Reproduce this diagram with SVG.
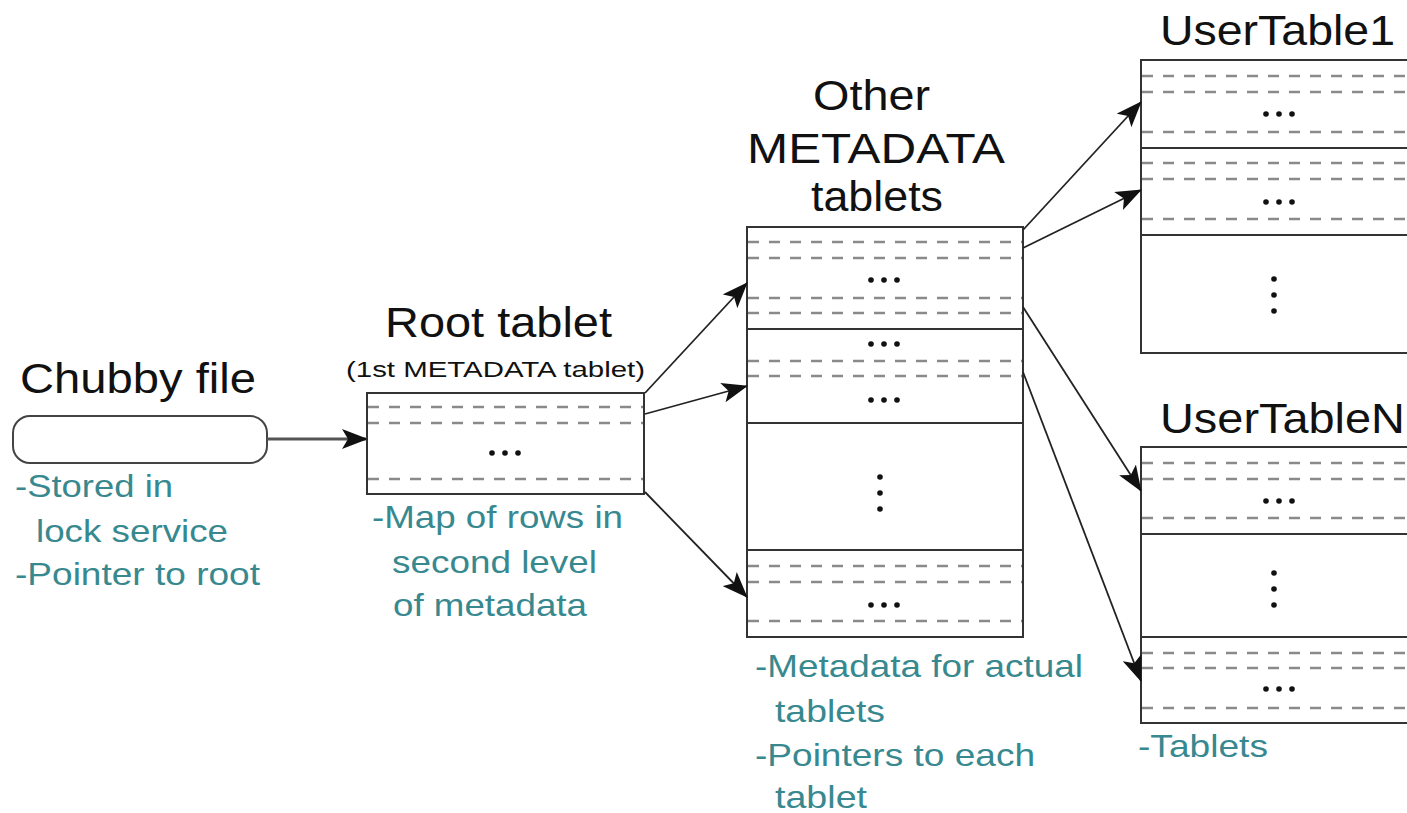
<svg xmlns="http://www.w3.org/2000/svg" width="1407" height="813" viewBox="0 0 1407 813">
<style>
.title{font-family:"Liberation Sans",Arial,sans-serif;font-size:42px;fill:#111}
.sub{font-family:"Liberation Sans",Arial,sans-serif;font-size:22px;fill:#111}
.note{font-family:"Liberation Sans",Arial,sans-serif;font-size:32px;fill:#37898f}
.box{fill:#fff;stroke:#333;stroke-width:2}
.solid{stroke:#333;stroke-width:2}
.dash{stroke:#8a8a8a;stroke-width:2.6;stroke-dasharray:11 10}
.dot{fill:#111}
.conn{stroke:#222;stroke-width:1.8;fill:none}
</style>
<defs>
<marker id="ah" markerUnits="userSpaceOnUse" viewBox="0 0 26 20" refX="25" refY="10" markerWidth="26" markerHeight="20" orient="auto">
<path d="M0,0 L26,10 L0,20 L6,10 Z" fill="#111"/>
</marker>
<g id="hdots"><circle cx="-13" cy="0" r="2.8" class="dot"/><circle cx="0" cy="0" r="2.8" class="dot"/><circle cx="13" cy="0" r="2.8" class="dot"/></g>
<g id="vdots"><circle cx="0" cy="-16" r="2.8" class="dot"/><circle cx="0" cy="0" r="2.8" class="dot"/><circle cx="0" cy="16" r="2.8" class="dot"/></g>
</defs>
<rect width="1407" height="813" fill="#fff"/>

<g id="chubby">
<text class="title" x="20" y="393" textLength="236" lengthAdjust="spacingAndGlyphs">Chubby file</text>
<rect x="13" y="416" width="254" height="47" rx="17" fill="#fff" stroke="#444" stroke-width="2"/>
<text class="note" x="15" y="497" textLength="158" lengthAdjust="spacingAndGlyphs">-Stored in</text>
<text class="note" x="36" y="542" textLength="192" lengthAdjust="spacingAndGlyphs">lock service</text>
<text class="note" x="15" y="585" textLength="245" lengthAdjust="spacingAndGlyphs">-Pointer to root</text>
</g>

<g id="root">
<text class="title" x="385" y="337" textLength="227" lengthAdjust="spacingAndGlyphs">Root tablet</text>
<text class="sub" x="346" y="377" textLength="299" lengthAdjust="spacingAndGlyphs">(1st METADATA tablet)</text>
<rect class="box" x="367" y="393" width="277" height="101"/>
<line class="dash" x1="368" y1="407" x2="643" y2="407"/>
<line class="dash" x1="368" y1="423" x2="643" y2="423"/>
<line class="dash" x1="368" y1="479" x2="643" y2="479"/>
<use href="#hdots" x="505" y="453"/>
<text class="note" x="372" y="528" textLength="251" lengthAdjust="spacingAndGlyphs">-Map of rows in</text>
<text class="note" x="392" y="573" textLength="205" lengthAdjust="spacingAndGlyphs">second level</text>
<text class="note" x="393" y="616" textLength="194" lengthAdjust="spacingAndGlyphs">of metadata</text>
</g>

<g id="metadata">
<text class="title" x="813" y="110" textLength="117" lengthAdjust="spacingAndGlyphs">Other</text>
<text class="title" x="747" y="163" textLength="258" lengthAdjust="spacingAndGlyphs">METADATA</text>
<text class="title" x="811" y="211" textLength="132" lengthAdjust="spacingAndGlyphs">tablets</text>
<rect class="box" x="747" y="227" width="276" height="410"/>
<line class="dash" x1="748" y1="242" x2="1022" y2="242"/>
<line class="dash" x1="748" y1="258" x2="1022" y2="258"/>
<use href="#hdots" x="884" y="280"/>
<line class="dash" x1="748" y1="298" x2="1022" y2="298"/>
<line class="dash" x1="748" y1="313" x2="1022" y2="313"/>
<line class="solid" x1="747" y1="329" x2="1023" y2="329"/>
<use href="#hdots" x="884" y="344"/>
<line class="dash" x1="748" y1="361" x2="1022" y2="361"/>
<line class="dash" x1="748" y1="376" x2="1022" y2="376"/>
<use href="#hdots" x="884" y="400"/>
<line class="solid" x1="747" y1="423" x2="1023" y2="423"/>
<use href="#vdots" x="880" y="493"/>
<line class="solid" x1="747" y1="550" x2="1023" y2="550"/>
<line class="dash" x1="748" y1="566" x2="1022" y2="566"/>
<line class="dash" x1="748" y1="582" x2="1022" y2="582"/>
<use href="#hdots" x="884" y="605"/>
<line class="dash" x1="748" y1="621" x2="1022" y2="621"/>
<text class="note" x="755" y="677" textLength="328" lengthAdjust="spacingAndGlyphs">-Metadata for actual</text>
<text class="note" x="775" y="722" textLength="110" lengthAdjust="spacingAndGlyphs">tablets</text>
<text class="note" x="755" y="766" textLength="280" lengthAdjust="spacingAndGlyphs">-Pointers to each</text>
<text class="note" x="775" y="808" textLength="92" lengthAdjust="spacingAndGlyphs">tablet</text>
</g>

<g id="usertable1">
<text class="title" x="1160" y="45" textLength="235" lengthAdjust="spacingAndGlyphs">UserTable1</text>
<rect class="box" x="1141" y="60" width="290" height="293"/>
<line class="dash" x1="1142" y1="76" x2="1407" y2="76"/>
<line class="dash" x1="1142" y1="92" x2="1407" y2="92"/>
<use href="#hdots" x="1279" y="114"/>
<line class="dash" x1="1142" y1="132" x2="1407" y2="132"/>
<line class="solid" x1="1141" y1="148" x2="1407" y2="148"/>
<line class="dash" x1="1142" y1="163" x2="1407" y2="163"/>
<line class="dash" x1="1142" y1="179" x2="1407" y2="179"/>
<use href="#hdots" x="1279" y="202"/>
<line class="dash" x1="1142" y1="219" x2="1407" y2="219"/>
<line class="solid" x1="1141" y1="235" x2="1407" y2="235"/>
<use href="#vdots" x="1274" y="295"/>
</g>

<g id="usertableN">
<text class="title" x="1160" y="433" textLength="245" lengthAdjust="spacingAndGlyphs">UserTableN</text>
<rect class="box" x="1141" y="447" width="290" height="276"/>
<line class="dash" x1="1142" y1="463" x2="1407" y2="463"/>
<line class="dash" x1="1142" y1="479" x2="1407" y2="479"/>
<use href="#hdots" x="1279" y="501"/>
<line class="dash" x1="1142" y1="518" x2="1407" y2="518"/>
<line class="solid" x1="1141" y1="534" x2="1407" y2="534"/>
<use href="#vdots" x="1274" y="589"/>
<line class="solid" x1="1141" y1="637" x2="1407" y2="637"/>
<line class="dash" x1="1142" y1="653" x2="1407" y2="653"/>
<line class="dash" x1="1142" y1="668" x2="1407" y2="668"/>
<use href="#hdots" x="1279" y="689"/>
<line class="dash" x1="1142" y1="708" x2="1407" y2="708"/>
<text class="note" x="1138" y="757" textLength="130" lengthAdjust="spacingAndGlyphs">-Tablets</text>
</g>

<g id="connectors">
<line x1="267" y1="439" x2="367" y2="439" stroke="#555" stroke-width="3" marker-end="url(#ah)"/>
<line class="conn" x1="645" y1="393" x2="747" y2="283" marker-end="url(#ah)"/>
<line class="conn" x1="645" y1="414" x2="747" y2="386" marker-end="url(#ah)"/>
<line class="conn" x1="645" y1="492" x2="747" y2="597" marker-end="url(#ah)"/>
<line class="conn" x1="1023" y1="230" x2="1141" y2="102" marker-end="url(#ah)"/>
<line class="conn" x1="1023" y1="248" x2="1141" y2="190" marker-end="url(#ah)"/>
<line class="conn" x1="1023" y1="307" x2="1141" y2="491" marker-end="url(#ah)"/>
<line class="conn" x1="1023" y1="372" x2="1141" y2="681" marker-end="url(#ah)"/>
</g>
</svg>
